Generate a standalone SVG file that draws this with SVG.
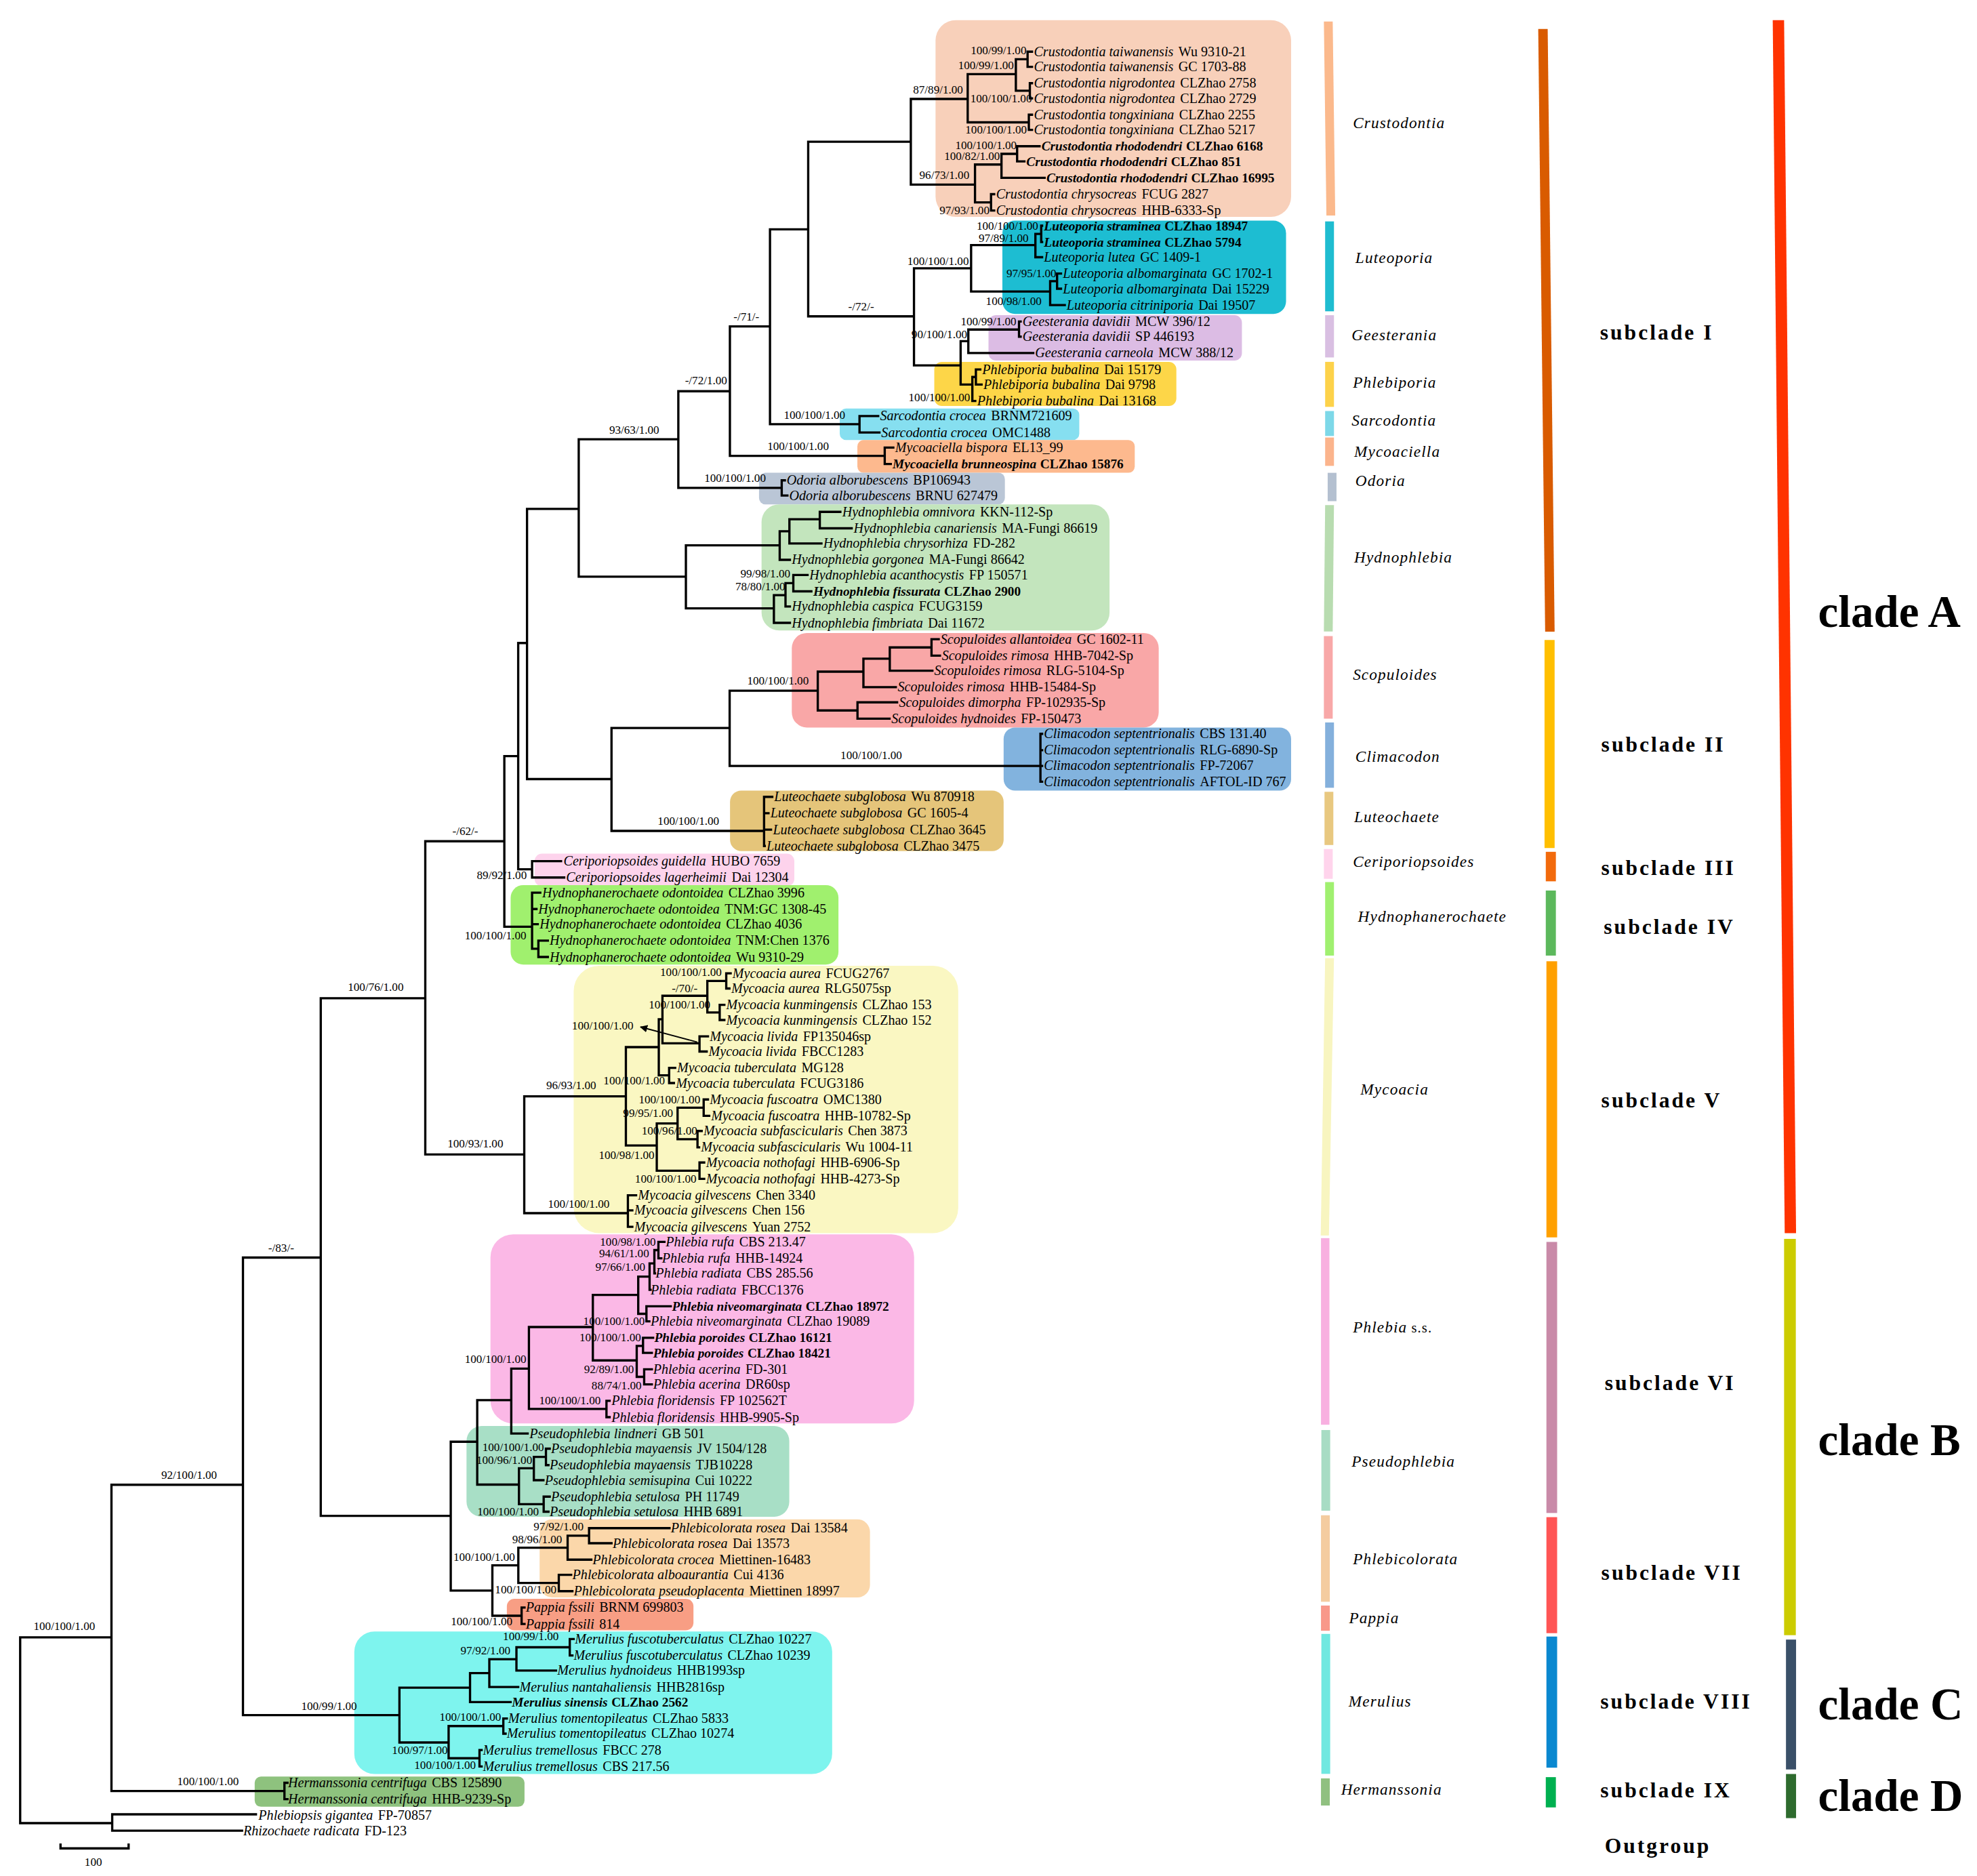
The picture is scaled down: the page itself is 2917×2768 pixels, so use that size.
<svg xmlns="http://www.w3.org/2000/svg" width="2917" height="2768" viewBox="0 0 2917 2768">
<defs>
<style>
.t{font-family:"Liberation Serif","Times New Roman",serif;font-size:10.8px;fill:#000}
.i{font-style:italic}
.b{font-weight:bold;font-size:10.4px}
.s{font-family:"Liberation Serif","Times New Roman",serif;font-size:9.2px;text-anchor:middle;fill:#000}
.g{font-family:"Liberation Serif","Times New Roman",serif;font-size:12.5px;font-style:italic;letter-spacing:0.6px;fill:#000}
.sc{font-family:"Liberation Serif","Times New Roman",serif;font-size:17px;font-weight:bold;letter-spacing:1.6px;fill:#000}
.cl{font-family:"Liberation Serif","Times New Roman",serif;font-size:36px;font-weight:bold;fill:#000}
.ln{fill:none;stroke:#000;stroke-width:1.8;stroke-linecap:square}
</style>
<marker id="arr" viewBox="0 0 10 10" refX="9" refY="5" markerWidth="6" markerHeight="6" orient="auto"><path d="M0 0L10 5L0 10z" fill="#000"/></marker>
</defs>
<rect width="2917" height="2768" fill="#fff"/>
<g transform="scale(1.86033)">
<g id="highlights">
<rect x="742" y="16" width="282" height="156" rx="16" fill="#f8d0ba"/>
<rect x="795" y="175" width="225" height="74" rx="10" fill="#1dbdd2"/>
<rect x="784" y="250" width="201" height="36" rx="6" fill="#dcbce4"/>
<rect x="741" y="287" width="192" height="35" rx="6" fill="#fdd648"/>
<rect x="666" y="324" width="190" height="25" rx="5" fill="#86dff0"/>
<rect x="680" y="349" width="220" height="26" rx="5" fill="#fdb98e"/>
<rect x="602" y="375" width="195" height="25" rx="5" fill="#bac6d6"/>
<rect x="604" y="400" width="276" height="100" rx="14" fill="#c3e5bd"/>
<rect x="628" y="502" width="291" height="75" rx="12" fill="#f9a7a7"/>
<rect x="796" y="577" width="228" height="50" rx="9" fill="#82b3de"/>
<rect x="579" y="627" width="217" height="48" rx="9" fill="#e5c57a"/>
<rect x="424" y="677" width="206" height="26" rx="6" fill="#fdd3ec"/>
<rect x="405" y="702" width="260" height="63" rx="10" fill="#a0f06e"/>
<rect x="455" y="766" width="305" height="212" rx="20" fill="#faf7c2"/>
<rect x="389" y="979" width="336" height="150" rx="18" fill="#fbb8e6"/>
<rect x="370" y="1131" width="256" height="72" rx="12" fill="#a8dfc6"/>
<rect x="428" y="1205" width="262" height="62" rx="10" fill="#fbd7aa"/>
<rect x="402" y="1268" width="148" height="25" rx="6" fill="#f89e84"/>
<rect x="281" y="1294" width="379" height="113" rx="16" fill="#7ef4ee"/>
<rect x="202" y="1409" width="214" height="24" rx="5" fill="#8ec27e"/>
</g>
<g id="connectors">
<path class="ln" d="M16 1298.6V1446M16 1298.6H88.4M16 1446H89M89 1439V1452M89 1439H203M89 1452H192
M88.4 1177.6V1420.5M88.4 1177.6H192.7M88.4 1420.5H225.6M225.6 1414V1427M225.6 1414H228M225.6 1427H228
M192.7 997.4V1360.3M192.7 997.4H254.4M192.7 1360.3H316.8
M254.4 791.7V1202.3M254.4 791.7H337.3M254.4 1202.3H357.5
M337.3 667.2V915.6M337.3 667.2H400M337.3 915.6H415.8
M400 599.7V735M400 599.7H411M400 735H422
M411 510V689.5M411 510H418M411 689.5H422
M422 683V696M422 683H445M422 696H447.5
M422 708V752.5M422 708H428.5M422 721H425.5M422 733H426.5M422 752.5H427M427 746V759M427 746H434.5M427 759H434.5
M418 403.6V617.9M418 403.6H459M418 617.9H485
M459 348.4V457.4M459 348.4H538M459 457.4H544
M538 310.3V387M538 310.3H578.9M538 387H620
M620 381V393M620 381H622.5M620 393H624.5
M578.9 258.9V361.6M578.9 258.9H610.7M578.9 361.6H701.7
M701.7 355V368M701.7 355H708.5M701.7 368H706.5
M610.7 181.9V336.4M610.7 181.9H641M610.7 336.4H681.7
M681.7 330V343M681.7 330H696.5M681.7 343H697.5
M641 112.4V250.9M641 112.4H722.4M641 250.9H724.9
M722.4 78.5V146.4M722.4 78.5H767.5M722.4 146.4H773.3
M767.5 58.8V97M767.5 58.8H805.7M767.5 97H816
M805.7 47V72M805.7 47H815M805.7 72H816.8
M815 41V53M815 41H818.5M815 53H818.5
M816.8 66V78M816.8 66H818.5M816.8 78H818.5
M816 91V103M816 91H818.5M816 103H818.5
M773.3 130.5V160.5M773.3 130.5H794.3M773.3 160.5H786
M794.3 122V141M794.3 122H806.7M794.3 141H828.5
M806.7 116V128M806.7 116H824.5M806.7 128H812.5
M786 154V167M786 154H788.5M786 167H788.5
M724.9 212.8V289.8M724.9 212.8H770.2M724.9 289.8H761.9
M770.2 194.4V231.2M770.2 194.4H821.2M770.2 231.2H832.9
M821.2 185.5V204M821.2 185.5H825.8M821.2 204H826.5
M825.8 179V192M825.8 179H826.5M825.8 192H826.5
M832.9 223V242M832.9 223H838.4M832.9 242H844.5
M838.4 217V229M838.4 217H841.5M838.4 229H841.5
M761.9 270.6V305M761.9 270.6H768M761.9 305H771.2
M768 261.4V280M768 261.4H808.2M768 280H819.5
M808.2 255V267M808.2 255H809.5M808.2 267H809.5
M771.2 299V318M771.2 299H774M771.2 318H773.5
M774 293V305M774 293H777.5M774 305H778.5
M544 432.5V482.5M544 432.5H618.4M544 482.5H613.8
M618.4 421.4V444M618.4 421.4H626.1M618.4 444H626.5
M626.1 411.8V431M626.1 411.8H650.2M626.1 431H651.5
M650.2 406V419M650.2 406H666.5M650.2 419H675.5
M613.8 472V494M613.8 472H623M613.8 494H626.5
M623 462.5V481M623 462.5H629.2M623 481H626.5
M629.2 456V469M629.2 456H640.5M629.2 469H643.5
M485 577.4V659M485 577.4H578.7M485 659H606
M578.7 547.8V607.5M578.7 547.8H648.6M578.7 607.5H825.2
M648.6 532.7V563.5M648.6 532.7H684.8M648.6 563.5H680.1
M684.8 522.4V545M684.8 522.4H705.7M684.8 545H710.5
M705.7 513.5V532M705.7 513.5H738.8M705.7 532H739.5
M738.8 507V520M738.8 507H744.5M738.8 520H745.5
M680.1 557V570M680.1 557H711.5M680.1 570H705.5
M825.2 582V620M825.2 582H826.5M825.2 595H826.5M825.2 607.5H826.5M825.2 620H826.5
M606 632V671M606 632H612.5M606 645H609.5M606 658H611.5M606 671H606.5
M415.8 869.5V962.2M415.8 869.5H496.4M415.8 962.2H498
M498 948V973M498 948H504.5M498 960H501.5M498 973H501.5
M496.4 830.5V908.5M496.4 830.5H522.5M496.4 908.5H520.9
M522.5 808.4V852.9M522.5 808.4H525.4M522.5 852.9H530.7
M525.4 789.8V827.5M525.4 789.8H561M525.4 827.5H554.8
M561 778V803M561 778H576M561 803H570.8
M576 772V784M576 772H579.5M576 784H578.5
M570.8 797V809M570.8 797H574.5M570.8 809H574.5
M554.8 822V834M554.8 822H561.5M554.8 834H560.5
M530.7 847V859M530.7 847H535.5M530.7 859H534.5
M520.9 891V928.5M520.9 891H537.4M520.9 928.5H554.8
M537.4 878.5V903.5M537.4 878.5H558.1M537.4 903.5H553.2
M558.1 872V885M558.1 872H561.5M558.1 885H562.5
M553.2 897V910M553.2 897H556.5M553.2 910H554.5
M554.8 922V935M554.8 922H558.5M554.8 935H558.5
M357.5 1143.5V1261.5M357.5 1143.5H378.5M357.5 1261.5H390.5
M378.5 1110.5V1177.5M378.5 1110.5H405.5M378.5 1177.5H411.6
M405.5 1085.5V1137M405.5 1085.5H419.5M405.5 1137H418.5
M419.5 1052.5V1117.5M419.5 1052.5H470.2M419.5 1117.5H481
M481 1111V1124M481 1111H483.5M481 1124H483.5
M470.2 1027V1079M470.2 1027H506.2M470.2 1079H505
M506.2 1012.5V1042M506.2 1012.5H515.2M506.2 1042H512.7
M515.2 1002V1023M515.2 1002H519M515.2 1023H516
M519 991.5V1010M519 991.5H522.2M519 1010H519.5
M522.2 985V998M522.2 985H527M522.2 998H524.5
M512.7 1036V1048M512.7 1036H532M512.7 1048H515
M505 1067.5V1092M505 1067.5H510M505 1092H510.9
M510 1061V1073M510 1061H518M510 1073H517
M510.9 1086V1098M510.9 1086H517M510.9 1098H517
M411.6 1164.5V1193M411.6 1164.5H423.4M411.6 1193H431.2
M423.4 1155.5V1174M423.4 1155.5H433M423.4 1174H431
M433 1149V1162M433 1149H436M433 1162H435
M431.2 1187V1199M431.2 1187H436M431.2 1199H435
M390.5 1241.5V1281.5M390.5 1241.5H411.1M390.5 1281.5H413.7
M411.1 1227.5V1255.5M411.1 1227.5H450.2M411.1 1255.5H443.2
M450.2 1218V1237M450.2 1218H467.2M450.2 1237H469
M467.2 1212V1224M467.2 1212H531M467.2 1224H485
M443.2 1249V1262M443.2 1249H453M443.2 1262H454
M413.7 1275V1288M413.7 1275H416M413.7 1288H416
M316.8 1338.5V1382M316.8 1338.5H372.8M316.8 1382H355.8
M372.8 1327V1350M372.8 1327H388.1M372.8 1350H405
M388.1 1316V1338M388.1 1316H409.6M388.1 1338H411
M409.6 1306.5V1325M409.6 1306.5H451.9M409.6 1325H441
M451.9 1300V1313M451.9 1300H455M451.9 1313H454
M355.8 1369V1394.5M355.8 1369H399.2M355.8 1394.5H380.3
M399.2 1363V1375M399.2 1363H402M399.2 1375H401
M380.3 1388V1401M380.3 1388H382M380.3 1401H382
M48 1466H102M48 1463V1466M102 1463V1466"/>
<line x1="553" y1="826.5" x2="508" y2="814.5" stroke="#000" stroke-width="1" marker-end="url(#arr)"/>
</g>
<g id="support-values" class="s">
<text x="792" y="43">100/99/1.00</text>
<text x="782" y="55">100/99/1.00</text>
<text x="744" y="74">87/89/1.00</text>
<text x="794" y="81">100/100/1.00</text>
<text x="790" y="106">100/100/1.00</text>
<text x="782" y="118">100/100/1.00</text>
<text x="771" y="127">100/82/1.00</text>
<text x="749" y="142">96/73/1.00</text>
<text x="765" y="170">97/93/1.00</text>
<text x="799" y="182">100/100/1.00</text>
<text x="796" y="192">97/89/1.00</text>
<text x="744" y="210">100/100/1.00</text>
<text x="818" y="220">97/95/1.00</text>
<text x="804" y="242">100/98/1.00</text>
<text x="683" y="246">-/72/-</text>
<text x="592" y="254">-/71/-</text>
<text x="784" y="258">100/99/1.00</text>
<text x="745" y="268">90/100/1.00</text>
<text x="560" y="305">-/72/1.00</text>
<text x="745" y="318">100/100/1.00</text>
<text x="646" y="332">100/100/1.00</text>
<text x="503" y="344">93/63/1.00</text>
<text x="633" y="357">100/100/1.00</text>
<text x="583" y="382">100/100/1.00</text>
<text x="607" y="458">99/98/1.00</text>
<text x="603" y="468">78/80/1.00</text>
<text x="617" y="543">100/100/1.00</text>
<text x="691" y="602">100/100/1.00</text>
<text x="546" y="654">100/100/1.00</text>
<text x="369" y="662">-/62/-</text>
<text x="398" y="697">89/92/1.00</text>
<text x="393" y="745">100/100/1.00</text>
<text x="548" y="774">100/100/1.00</text>
<text x="543" y="787">-/70/-</text>
<text x="298" y="786">100/76/1.00</text>
<text x="539" y="800">100/100/1.00</text>
<text x="478" y="816.5">100/100/1.00</text>
<text x="503" y="860">100/100/1.00</text>
<text x="453" y="864">96/93/1.00</text>
<text x="531" y="875">100/100/1.00</text>
<text x="514" y="886">99/95/1.00</text>
<text x="531" y="900">100/96/1.00</text>
<text x="377" y="910">100/93/1.00</text>
<text x="497" y="919">100/98/1.00</text>
<text x="528" y="938">100/100/1.00</text>
<text x="459" y="958">100/100/1.00</text>
<text x="223" y="993">-/83/-</text>
<text x="498" y="988">100/98/1.00</text>
<text x="495" y="997">94/61/1.00</text>
<text x="492" y="1008">97/66/1.00</text>
<text x="487" y="1051">100/100/1.00</text>
<text x="484" y="1064">100/100/1.00</text>
<text x="393" y="1081">100/100/1.00</text>
<text x="483" y="1089">92/89/1.00</text>
<text x="489" y="1102">88/74/1.00</text>
<text x="452" y="1114">100/100/1.00</text>
<text x="407" y="1151">100/100/1.00</text>
<text x="400" y="1161">100/96/1.00</text>
<text x="150" y="1173">92/100/1.00</text>
<text x="403" y="1202">100/100/1.00</text>
<text x="443" y="1214">97/92/1.00</text>
<text x="426" y="1224">98/96/1.00</text>
<text x="384" y="1238">100/100/1.00</text>
<text x="417" y="1264">100/100/1.00</text>
<text x="382" y="1289">100/100/1.00</text>
<text x="51" y="1293">100/100/1.00</text>
<text x="421" y="1301">100/99/1.00</text>
<text x="385" y="1312">97/92/1.00</text>
<text x="261" y="1356">100/99/1.00</text>
<text x="373" y="1365">100/100/1.00</text>
<text x="333" y="1391">100/97/1.00</text>
<text x="353" y="1403">100/100/1.00</text>
<text x="165" y="1416">100/100/1.00</text>
<text x="74" y="1480">100</text>
</g>
<g id="node-crustodontia" class="t">
<text x="820" y="44.5"><tspan class="i">Crustodontia taiwanensis</tspan><tspan dx="4">Wu 9310-21</tspan></text>
<text x="820" y="56.5"><tspan class="i">Crustodontia taiwanensis</tspan><tspan dx="4">GC 1703-88</tspan></text>
<text x="820" y="69.5"><tspan class="i">Crustodontia nigrodontea</tspan><tspan dx="4">CLZhao 2758</tspan></text>
<text x="820" y="81.5"><tspan class="i">Crustodontia nigrodontea</tspan><tspan dx="4">CLZhao 2729</tspan></text>
<text x="820" y="94.5"><tspan class="i">Crustodontia tongxiniana</tspan><tspan dx="4">CLZhao 2255</tspan></text>
<text x="820" y="106.5"><tspan class="i">Crustodontia tongxiniana</tspan><tspan dx="4">CLZhao 5217</tspan></text>
<text class="b" x="826" y="119.5"><tspan class="i">Crustodontia rhododendri</tspan><tspan dx="3">CLZhao 6168</tspan></text>
<text class="b" x="814" y="131.5"><tspan class="i">Crustodontia rhododendri</tspan><tspan dx="3">CLZhao 851</tspan></text>
<text class="b" x="830" y="144.5"><tspan class="i">Crustodontia rhododendri</tspan><tspan dx="3">CLZhao 16995</tspan></text>
<text x="790" y="157.5"><tspan class="i">Crustodontia chrysocreas</tspan><tspan dx="4">FCUG 2827</tspan></text>
<text x="790" y="170.5"><tspan class="i">Crustodontia chrysocreas</tspan><tspan dx="4">HHB-6333-Sp</tspan></text>
</g>
<g id="node-luteoporia" class="t">
<text class="b" x="828" y="182.5"><tspan class="i">Luteoporia straminea</tspan><tspan dx="3">CLZhao 18947</tspan></text>
<text class="b" x="828" y="195.5"><tspan class="i">Luteoporia straminea</tspan><tspan dx="3">CLZhao 5794</tspan></text>
<text x="828" y="207.5"><tspan class="i">Luteoporia lutea</tspan><tspan dx="4">GC 1409-1</tspan></text>
<text x="843" y="220.5"><tspan class="i">Luteoporia albomarginata</tspan><tspan dx="4">GC 1702-1</tspan></text>
<text x="843" y="232.5"><tspan class="i">Luteoporia albomarginata</tspan><tspan dx="4">Dai 15229</tspan></text>
<text x="846" y="245.5"><tspan class="i">Luteoporia citriniporia</tspan><tspan dx="4">Dai 19507</tspan></text>
</g>
<g id="node-geesterania" class="t">
<text x="811" y="258.5"><tspan class="i">Geesterania davidii</tspan><tspan dx="4">MCW 396/12</tspan></text>
<text x="811" y="270.5"><tspan class="i">Geesterania davidii</tspan><tspan dx="4">SP 446193</tspan></text>
<text x="821" y="283.5"><tspan class="i">Geesterania carneola</tspan><tspan dx="4">MCW 388/12</tspan></text>
</g>
<g id="node-phlebiporia" class="t">
<text x="779" y="296.5"><tspan class="i">Phlebiporia bubalina</tspan><tspan dx="4">Dai 15179</tspan></text>
<text x="780" y="308.5"><tspan class="i">Phlebiporia bubalina</tspan><tspan dx="4">Dai 9798</tspan></text>
<text x="775" y="321.5"><tspan class="i">Phlebiporia bubalina</tspan><tspan dx="4">Dai 13168</tspan></text>
</g>
<g id="node-sarcodontia" class="t">
<text x="698" y="333.5"><tspan class="i">Sarcodontia crocea</tspan><tspan dx="4">BRNM721609</tspan></text>
<text x="699" y="346.5"><tspan class="i">Sarcodontia crocea</tspan><tspan dx="4">OMC1488</tspan></text>
</g>
<g id="node-mycoaciella" class="t">
<text x="710" y="358.5"><tspan class="i">Mycoaciella bispora</tspan><tspan dx="4">EL13_99</tspan></text>
<text class="b" x="708" y="371.5"><tspan class="i">Mycoaciella brunneospina</tspan><tspan dx="3">CLZhao 15876</tspan></text>
</g>
<g id="node-odoria" class="t">
<text x="624" y="384.5"><tspan class="i">Odoria alborubescens</tspan><tspan dx="4">BP106943</tspan></text>
<text x="626" y="396.5"><tspan class="i">Odoria alborubescens</tspan><tspan dx="4">BRNU 627479</tspan></text>
</g>
<g id="node-hydnophlebia" class="t">
<text x="668" y="409.5"><tspan class="i">Hydnophlebia omnivora</tspan><tspan dx="4">KKN-112-Sp</tspan></text>
<text x="677" y="422.5"><tspan class="i">Hydnophlebia canariensis</tspan><tspan dx="4">MA-Fungi 86619</tspan></text>
<text x="653" y="434.5"><tspan class="i">Hydnophlebia chrysorhiza</tspan><tspan dx="4">FD-282</tspan></text>
<text x="628" y="447.5"><tspan class="i">Hydnophlebia gorgonea</tspan><tspan dx="4">MA-Fungi 86642</tspan></text>
<text x="642" y="459.5"><tspan class="i">Hydnophlebia acanthocystis</tspan><tspan dx="4">FP 150571</tspan></text>
<text class="b" x="645" y="472.5"><tspan class="i">Hydnophlebia fissurata</tspan><tspan dx="3">CLZhao 2900</tspan></text>
<text x="628" y="484.5"><tspan class="i">Hydnophlebia caspica</tspan><tspan dx="4">FCUG3159</tspan></text>
<text x="628" y="497.5"><tspan class="i">Hydnophlebia fimbriata</tspan><tspan dx="4">Dai 11672</tspan></text>
</g>
<g id="node-scopuloides" class="t">
<text x="746" y="510.5"><tspan class="i">Scopuloides allantoidea</tspan><tspan dx="4">GC 1602-11</tspan></text>
<text x="747" y="523.5"><tspan class="i">Scopuloides rimosa</tspan><tspan dx="4">HHB-7042-Sp</tspan></text>
<text x="741" y="535.5"><tspan class="i">Scopuloides rimosa</tspan><tspan dx="4">RLG-5104-Sp</tspan></text>
<text x="712" y="548.5"><tspan class="i">Scopuloides rimosa</tspan><tspan dx="4">HHB-15484-Sp</tspan></text>
<text x="713" y="560.5"><tspan class="i">Scopuloides dimorpha</tspan><tspan dx="4">FP-102935-Sp</tspan></text>
<text x="707" y="573.5"><tspan class="i">Scopuloides hydnoides</tspan><tspan dx="4">FP-150473</tspan></text>
</g>
<g id="node-climacodon" class="t">
<text x="828" y="585.5"><tspan class="i">Climacodon septentrionalis</tspan><tspan dx="4">CBS 131.40</tspan></text>
<text x="828" y="598.5"><tspan class="i">Climacodon septentrionalis</tspan><tspan dx="4">RLG-6890-Sp</tspan></text>
<text x="828" y="610.5"><tspan class="i">Climacodon septentrionalis</tspan><tspan dx="4">FP-72067</tspan></text>
<text x="828" y="623.5"><tspan class="i">Climacodon septentrionalis</tspan><tspan dx="4">AFTOL-ID 767</tspan></text>
</g>
<g id="node-luteochaete" class="t">
<text x="614" y="635.5"><tspan class="i">Luteochaete subglobosa</tspan><tspan dx="4">Wu 870918</tspan></text>
<text x="611" y="648.5"><tspan class="i">Luteochaete subglobosa</tspan><tspan dx="4">GC 1605-4</tspan></text>
<text x="613" y="661.5"><tspan class="i">Luteochaete subglobosa</tspan><tspan dx="4">CLZhao 3645</tspan></text>
<text x="608" y="674.5"><tspan class="i">Luteochaete subglobosa</tspan><tspan dx="4">CLZhao 3475</tspan></text>
</g>
<g id="node-ceriporiopsoides" class="t">
<text x="447" y="686.5"><tspan class="i">Ceriporiopsoides guidella</tspan><tspan dx="4">HUBO 7659</tspan></text>
<text x="449" y="699.5"><tspan class="i">Ceriporiopsoides lagerheimii</tspan><tspan dx="4">Dai 12304</tspan></text>
</g>
<g id="node-hydnophanerochaete" class="t">
<text x="430" y="711.5"><tspan class="i">Hydnophanerochaete odontoidea</tspan><tspan dx="4">CLZhao 3996</tspan></text>
<text x="427" y="724.5"><tspan class="i">Hydnophanerochaete odontoidea</tspan><tspan dx="4">TNM:GC 1308-45</tspan></text>
<text x="428" y="736.5"><tspan class="i">Hydnophanerochaete odontoidea</tspan><tspan dx="4">CLZhao 4036</tspan></text>
<text x="436" y="749.5"><tspan class="i">Hydnophanerochaete odontoidea</tspan><tspan dx="4">TNM:Chen 1376</tspan></text>
<text x="436" y="762.5"><tspan class="i">Hydnophanerochaete odontoidea</tspan><tspan dx="4">Wu 9310-29</tspan></text>
</g>
<g id="node-mycoacia" class="t">
<text x="581" y="775.5"><tspan class="i">Mycoacia aurea</tspan><tspan dx="4">FCUG2767</tspan></text>
<text x="580" y="787.5"><tspan class="i">Mycoacia aurea</tspan><tspan dx="4">RLG5075sp</tspan></text>
<text x="576" y="800.5"><tspan class="i">Mycoacia kunmingensis</tspan><tspan dx="4">CLZhao 153</tspan></text>
<text x="576" y="812.5"><tspan class="i">Mycoacia kunmingensis</tspan><tspan dx="4">CLZhao 152</tspan></text>
<text x="563" y="825.5"><tspan class="i">Mycoacia livida</tspan><tspan dx="4">FP135046sp</tspan></text>
<text x="562" y="837.5"><tspan class="i">Mycoacia livida</tspan><tspan dx="4">FBCC1283</tspan></text>
<text x="537" y="850.5"><tspan class="i">Mycoacia tuberculata</tspan><tspan dx="4">MG128</tspan></text>
<text x="536" y="862.5"><tspan class="i">Mycoacia tuberculata</tspan><tspan dx="4">FCUG3186</tspan></text>
<text x="563" y="875.5"><tspan class="i">Mycoacia fuscoatra</tspan><tspan dx="4">OMC1380</tspan></text>
<text x="564" y="888.5"><tspan class="i">Mycoacia fuscoatra</tspan><tspan dx="4">HHB-10782-Sp</tspan></text>
<text x="558" y="900.5"><tspan class="i">Mycoacia subfascicularis</tspan><tspan dx="4">Chen 3873</tspan></text>
<text x="556" y="913.5"><tspan class="i">Mycoacia subfascicularis</tspan><tspan dx="4">Wu 1004-11</tspan></text>
<text x="560" y="925.5"><tspan class="i">Mycoacia nothofagi</tspan><tspan dx="4">HHB-6906-Sp</tspan></text>
<text x="560" y="938.5"><tspan class="i">Mycoacia nothofagi</tspan><tspan dx="4">HHB-4273-Sp</tspan></text>
<text x="506" y="951.5"><tspan class="i">Mycoacia gilvescens</tspan><tspan dx="4">Chen 3340</tspan></text>
<text x="503" y="963.5"><tspan class="i">Mycoacia gilvescens</tspan><tspan dx="4">Chen 156</tspan></text>
<text x="503" y="976.5"><tspan class="i">Mycoacia gilvescens</tspan><tspan dx="4">Yuan 2752</tspan></text>
</g>
<g id="node-phlebia" class="t">
<text x="528" y="988.5"><tspan class="i">Phlebia rufa</tspan><tspan dx="4">CBS 213.47</tspan></text>
<text x="525" y="1001.5"><tspan class="i">Phlebia rufa</tspan><tspan dx="4">HHB-14924</tspan></text>
<text x="520" y="1013.5"><tspan class="i">Phlebia radiata</tspan><tspan dx="4">CBS 285.56</tspan></text>
<text x="516" y="1026.5"><tspan class="i">Phlebia radiata</tspan><tspan dx="4">FBCC1376</tspan></text>
<text class="b" x="533" y="1039.5"><tspan class="i">Phlebia niveomarginata</tspan><tspan dx="3">CLZhao 18972</tspan></text>
<text x="516" y="1051.5"><tspan class="i">Phlebia niveomarginata</tspan><tspan dx="4">CLZhao 19089</tspan></text>
<text class="b" x="519" y="1064.5"><tspan class="i">Phlebia poroides</tspan><tspan dx="3">CLZhao 16121</tspan></text>
<text class="b" x="518" y="1076.5"><tspan class="i">Phlebia poroides</tspan><tspan dx="3">CLZhao 18421</tspan></text>
<text x="518" y="1089.5"><tspan class="i">Phlebia acerina</tspan><tspan dx="4">FD-301</tspan></text>
<text x="518" y="1101.5"><tspan class="i">Phlebia acerina</tspan><tspan dx="4">DR60sp</tspan></text>
<text x="485" y="1114.5"><tspan class="i">Phlebia floridensis</tspan><tspan dx="4">FP 102562T</tspan></text>
<text x="485" y="1127.5"><tspan class="i">Phlebia floridensis</tspan><tspan dx="4">HHB-9905-Sp</tspan></text>
</g>
<g id="node-pseudophlebia" class="t">
<text x="420" y="1140.5"><tspan class="i">Pseudophlebia lindneri</tspan><tspan dx="4">GB 501</tspan></text>
<text x="437" y="1152.5"><tspan class="i">Pseudophlebia mayaensis</tspan><tspan dx="4">JV 1504/128</tspan></text>
<text x="436" y="1165.5"><tspan class="i">Pseudophlebia mayaensis</tspan><tspan dx="4">TJB10228</tspan></text>
<text x="432" y="1177.5"><tspan class="i">Pseudophlebia semisupina</tspan><tspan dx="4">Cui 10222</tspan></text>
<text x="437" y="1190.5"><tspan class="i">Pseudophlebia setulosa</tspan><tspan dx="4">PH 11749</tspan></text>
<text x="436" y="1202.5"><tspan class="i">Pseudophlebia setulosa</tspan><tspan dx="4">HHB 6891</tspan></text>
</g>
<g id="node-phlebicolorata" class="t">
<text x="532" y="1215.5"><tspan class="i">Phlebicolorata rosea</tspan><tspan dx="4">Dai 13584</tspan></text>
<text x="486" y="1227.5"><tspan class="i">Phlebicolorata rosea</tspan><tspan dx="4">Dai 13573</tspan></text>
<text x="470" y="1240.5"><tspan class="i">Phlebicolorata crocea</tspan><tspan dx="4">Miettinen-16483</tspan></text>
<text x="454" y="1252.5"><tspan class="i">Phlebicolorata alboaurantia</tspan><tspan dx="4">Cui 4136</tspan></text>
<text x="455" y="1265.5"><tspan class="i">Phlebicolorata pseudoplacenta</tspan><tspan dx="4">Miettinen 18997</tspan></text>
</g>
<g id="node-pappia" class="t">
<text x="417" y="1278.5"><tspan class="i">Pappia fssili</tspan><tspan dx="4">BRNM 699803</tspan></text>
<text x="417" y="1291.5"><tspan class="i">Pappia fssili</tspan><tspan dx="4">814</tspan></text>
</g>
<g id="node-merulius" class="t">
<text x="456" y="1303.5"><tspan class="i">Merulius fuscotuberculatus</tspan><tspan dx="4">CLZhao 10227</tspan></text>
<text x="455" y="1316.5"><tspan class="i">Merulius fuscotuberculatus</tspan><tspan dx="4">CLZhao 10239</tspan></text>
<text x="442" y="1328.5"><tspan class="i">Merulius hydnoideus</tspan><tspan dx="4">HHB1993sp</tspan></text>
<text x="412" y="1341.5"><tspan class="i">Merulius nantahaliensis</tspan><tspan dx="4">HHB2816sp</tspan></text>
<text class="b" x="406" y="1353.5"><tspan class="i">Merulius sinensis</tspan><tspan dx="3">CLZhao 2562</tspan></text>
<text x="403" y="1366.5"><tspan class="i">Merulius tomentopileatus</tspan><tspan dx="4">CLZhao 5833</tspan></text>
<text x="402" y="1378.5"><tspan class="i">Merulius tomentopileatus</tspan><tspan dx="4">CLZhao 10274</tspan></text>
<text x="383" y="1391.5"><tspan class="i">Merulius tremellosus</tspan><tspan dx="4">FBCC 278</tspan></text>
<text x="383" y="1404.5"><tspan class="i">Merulius tremellosus</tspan><tspan dx="4">CBS 217.56</tspan></text>
</g>
<g id="node-hermanssonia" class="t">
<text x="228.5" y="1417.5"><tspan class="i">Hermanssonia centrifuga</tspan><tspan dx="4">CBS 125890</tspan></text>
<text x="228.5" y="1430.5"><tspan class="i">Hermanssonia centrifuga</tspan><tspan dx="4">HHB-9239-Sp</tspan></text>
</g>
<g id="node-outgroup" class="t">
<text x="205" y="1443.5"><tspan class="i">Phlebiopsis gigantea</tspan><tspan dx="4">FP-70857</tspan></text>
<text x="193" y="1455.5"><tspan class="i">Rhizochaete radicata</tspan><tspan dx="4">FD-123</tspan></text>
</g>
<g id="legend-genera">
<polygon points="1050,17 1057,17 1059,171 1052,171" fill="#fbb98c"/>
<rect x="1051" y="175.6" width="7" height="71.3" fill="#1fbcd0"/>
<rect x="1051" y="250" width="7" height="33.5" fill="#d9bfe2"/>
<rect x="1051" y="287" width="7" height="35.7" fill="#fdd24a"/>
<rect x="1051" y="326" width="7" height="19.8" fill="#7dd8e8"/>
<rect x="1051" y="347" width="7" height="22.5" fill="#fbb48c"/>
<rect x="1053" y="375" width="7" height="22.5" fill="#b4c0d0"/>
<polygon points="1051,400.6 1058,400.6 1057,500.9 1050,500.9" fill="#b8dcb0"/>
<rect x="1050" y="504.5" width="7" height="65.5" fill="#f8a8a8"/>
<rect x="1051" y="573" width="7" height="51.8" fill="#84b0dc"/>
<rect x="1050.5" y="628" width="7" height="42.2" fill="#e8c880"/>
<rect x="1050" y="673.4" width="7" height="23.6" fill="#ffd4ec"/>
<rect x="1051" y="699.6" width="7" height="58.3" fill="#a0f070"/>
<polygon points="1051,760 1058,760 1054,980 1047.5,980" fill="#f8f5c0"/>
<rect x="1047.7" y="982" width="6.7" height="148" fill="#f8b0e0"/>
<rect x="1048" y="1134.2" width="7" height="64" fill="#a8dcc4"/>
<rect x="1047.7" y="1201.8" width="7" height="68.6" fill="#f4cca0"/>
<rect x="1047.7" y="1273.4" width="7" height="20" fill="#f8988a"/>
<rect x="1048" y="1295.9" width="7" height="111" fill="#70e8e0"/>
<rect x="1047.7" y="1410.5" width="7" height="21.5" fill="#90c080"/>
<g class="g">
<text x="1073" y="101.6">Crustodontia</text>
<text x="1075" y="208.6">Luteoporia</text>
<text x="1072" y="269.6">Geesterania</text>
<text x="1073" y="307.5">Phlebiporia</text>
<text x="1072" y="337.4">Sarcodontia</text>
<text x="1074" y="362.3">Mycoaciella</text>
<text x="1075" y="385.5">Odoria</text>
<text x="1074" y="446">Hydnophlebia</text>
<text x="1073" y="539.2">Scopuloides</text>
<text x="1075" y="604.3">Climacodon</text>
<text x="1074" y="652">Luteochaete</text>
<text x="1073" y="687.6">Ceriporiopsoides</text>
<text x="1077" y="731.3">Hydnophanerochaete</text>
<text x="1079" y="868">Mycoacia</text>
<text x="1073" y="1057">Phlebia<tspan font-style="normal" font-size="11px"> s.s.</tspan></text>
<text x="1072" y="1163.3">Pseudophlebia</text>
<text x="1073" y="1240.8">Phlebicolorata</text>
<text x="1070" y="1287.4">Pappia</text>
<text x="1069.6" y="1353.5">Merulius</text>
<text x="1063.6" y="1423.5">Hermanssonia</text>
</g>
</g>
<g id="legend-subclades">
<polygon points="1220,23 1227.5,23 1233,501 1225.5,501" fill="#d95b00"/>
<rect x="1225" y="507.6" width="8" height="165" fill="#ffbf00"/>
<rect x="1226" y="675.6" width="8" height="23.4" fill="#f26a0c"/>
<rect x="1226" y="706.3" width="8" height="51.6" fill="#5cb85c"/>
<rect x="1226.5" y="762.4" width="8.5" height="219" fill="#ffa000"/>
<rect x="1226.5" y="985" width="8.5" height="215" fill="#c98aa8"/>
<rect x="1226.5" y="1203.3" width="8.5" height="92" fill="#ff5555"/>
<rect x="1226.5" y="1298" width="8.5" height="104" fill="#0a88d0"/>
<rect x="1226" y="1409.5" width="8" height="24" fill="#00b050"/>
<g class="sc">
<text x="1269" y="269.4">subclade I</text>
<text x="1270" y="596">subclade II</text>
<text x="1270" y="694">subclade III</text>
<text x="1272" y="740.8">subclade IV</text>
<text x="1270" y="878.5">subclade V</text>
<text x="1272.7" y="1102.7">subclade VI</text>
<text x="1270" y="1252.8">subclade VII</text>
<text x="1269.3" y="1355.4">subclade VIII</text>
<text x="1269.3" y="1425.5">subclade IX</text>
<text x="1272.7" y="1469.6">Outgroup</text>
</g>
</g>
<g id="legend-clades">
<polygon points="1406,16 1415,16 1424.5,978 1415.5,978" fill="#ff3300"/>
<rect x="1415" y="982.6" width="9.3" height="314.3" fill="#cccc00"/>
<rect x="1416.5" y="1300.4" width="8" height="103" fill="#3a5068"/>
<rect x="1416.5" y="1407" width="8" height="35" fill="#2e6b2e"/>
<g class="cl">
<text x="1442" y="497">clade A</text>
<text x="1442" y="1154">clade B</text>
<text x="1442" y="1364">clade C</text>
<text x="1442" y="1436.5">clade D</text>
</g>
</g>
</g>
</svg>
